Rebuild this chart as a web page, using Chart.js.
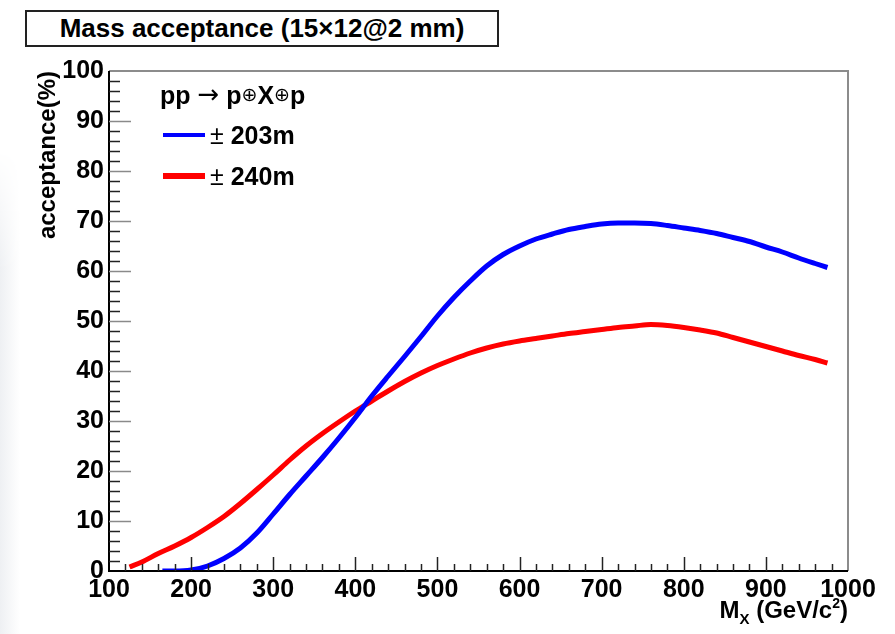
<!DOCTYPE html>
<html>
<head>
<meta charset="utf-8">
<script src="https://cdn.jsdelivr.net/npm/chart.js@4"></script>
<style>
  body { margin: 0; background: #fff; }
  #wrap { position: relative; width: 895px; height: 634px; }
  #shade { position: absolute; left: 0; top: 150px; width: 20px; height: 484px;
    background: linear-gradient(to right, #eef0f3, #ffffff);
    -webkit-mask-image: linear-gradient(to bottom, transparent, #000 25%, #000); }
  #title { position: absolute; left: 25px; top: 10px; width: 470px; height: 33px;
    border: 2px solid #222; font: bold 26px "Liberation Sans", Arial, sans-serif;
    line-height: 33px; text-align: center; color: #000; background: #fff; }
</style>
</head>
<body>
<div id="wrap">
  <div id="shade"></div>
  <canvas id="mass-chart"></canvas>
  <div id="title">Mass acceptance (15×12@2 mm)</div>
</div>
<script>
// acceptance vs M_X
const mass203 = [165, 180, 200, 220, 240, 260, 280, 300, 320, 340, 360, 380, 400, 420, 440, 460, 480, 500, 520, 540, 560, 580, 600, 620, 640, 660, 680, 700, 720, 740, 760, 780, 800, 820, 840, 860, 880, 900, 920, 940, 960, 975];
const acc203 = [0.0, 0.0, 0.2, 1.0, 2.5, 4.6, 7.6, 11.4, 15.3, 19.0, 22.7, 26.6, 30.7, 35.0, 39.0, 42.9, 46.9, 51.0, 54.7, 58.0, 61.0, 63.3, 65.0, 66.4, 67.4, 68.3, 68.9, 69.4, 69.6, 69.6, 69.5, 69.1, 68.6, 68.1, 67.5, 66.7, 65.9, 64.8, 63.8, 62.6, 61.5, 60.7];

const mass240 = [125, 140, 160, 180, 200, 220, 240, 260, 280, 300, 320, 340, 360, 380, 400, 420, 440, 460, 480, 500, 520, 540, 560, 580, 600, 620, 640, 660, 680, 700, 720, 740, 760, 780, 800, 820, 840, 860, 880, 900, 920, 940, 960, 975];
const acc240 = [0.8, 1.8, 3.5, 5.0, 6.7, 8.7, 10.9, 13.5, 16.3, 19.2, 22.2, 25.0, 27.5, 29.8, 32.0, 34.0, 36.0, 37.9, 39.6, 41.1, 42.4, 43.6, 44.6, 45.4, 46.0, 46.5, 47.0, 47.5, 47.9, 48.3, 48.7, 49.0, 49.3, 49.1, 48.7, 48.2, 47.6, 46.7, 45.8, 44.9, 44.0, 43.1, 42.3, 41.6];

const seriesLabels = ["± 203m", "± 240m"];
const seriesColors = ["#0000ff", "#ff0000"];

const FONT = '"Liberation Sans", Arial, sans-serif';

function toPoints(xs, ys) {
	return xs.map((x, i) => ({ x: x, y: ys[i] }));
}

// ROOT-style frame: inward ticks, grey top/right border, in-pad legend
const rootFrame = {
	id: "rootFrame",
	afterDraw(chart) {
		const ctx = chart.ctx;
		const a = chart.chartArea;
		const xs = chart.scales.x;
		const ys = chart.scales.y;
		ctx.save();

		ctx.lineWidth = 2;
		ctx.strokeStyle = "#8c8c8c";
		ctx.beginPath();
		ctx.moveTo(a.left, a.top);
		ctx.lineTo(a.right, a.top);
		ctx.lineTo(a.right, a.bottom);
		ctx.stroke();

		ctx.strokeStyle = "#000";
		ctx.beginPath();
		ctx.moveTo(a.left, a.top);
		ctx.lineTo(a.left, a.bottom);
		ctx.lineTo(a.right, a.bottom);
		ctx.stroke();

		// y ticks every 2
		ctx.lineWidth = 1.5;
		for (let v = 2; v < 100; v += 2) {
			const y = Math.round(ys.getPixelForValue(v)) + 0.5;
			const major = v % 10 === 0;
			ctx.strokeStyle = major ? "#8a8a8a" : "#222";
			ctx.beginPath();
			ctx.moveTo(a.left, y);
			ctx.lineTo(a.left + (major ? 22 : 11), y);
			ctx.stroke();
		}
		// x ticks every 20
		for (let v = 120; v < 1000; v += 20) {
			const x = Math.round(xs.getPixelForValue(v)) + 0.5;
			const major = v % 100 === 0;
			ctx.strokeStyle = "#222";
			ctx.beginPath();
			ctx.moveTo(x, a.bottom);
			ctx.lineTo(x, a.bottom - (major ? 14 : 7));
			ctx.stroke();
		}

		// legend
		ctx.fillStyle = "#000";
		ctx.textBaseline = "alphabetic";
		let x = 160;
		const put = (txt, font, dy) => {
			ctx.font = font;
			ctx.fillText(txt, x, 104 + (dy || 0));
			x += ctx.measureText(txt).width;
		};
		put("pp ", "bold 25px " + FONT);
		put("→", "26px DejaVu Sans", -1);
		put(" p", "bold 25px " + FONT);
		put("⊕", "19px DejaVu Sans", -3);
		put("X", "bold 25px " + FONT);
		put("⊕", "19px DejaVu Sans", -3);
		put("p", "bold 25px " + FONT);

		const rows = [135, 176];
		const widths = [4, 6];
		rows.forEach((yy, i) => {
			ctx.strokeStyle = seriesColors[i];
			ctx.lineWidth = widths[i];
			ctx.beginPath();
			ctx.moveTo(163, yy);
			ctx.lineTo(205, yy);
			ctx.stroke();
			const parts = seriesLabels[i].split(" ");
			ctx.font = "25px " + FONT;
			ctx.fillText(parts[0], 210, yy + 9);
			const w = ctx.measureText(parts[0] + " ").width;
			ctx.font = "bold 25px " + FONT;
			ctx.fillText(parts[1], 210 + w, yy + 9);
		});

		// x axis title M_X (GeV/c^2), right aligned
		const pieces = [
			["M", "bold 24px " + FONT, 0],
			["X", "bold 15px " + FONT, 6],
			[" (GeV/c", "bold 24px " + FONT, 0],
			["2", "bold 14px " + FONT, -10],
			[")", "bold 24px " + FONT, 0],
		];
		let total = 0;
		pieces.forEach((p) => { ctx.font = p[1]; total += ctx.measureText(p[0]).width; });
		let tx = a.right - total;
		pieces.forEach((p) => {
			ctx.font = p[1];
			ctx.fillText(p[0], tx, 618 + p[2]);
			tx += ctx.measureText(p[0]).width;
		});

		ctx.restore();
	},
};

const myChart = new Chart(document.getElementById("mass-chart"), {
	type: "line",
	data: {
		datasets: [
			{
				label: seriesLabels[0],
				data: toPoints(mass203, acc203),
				borderColor: seriesColors[0],
				borderWidth: 5,
				pointRadius: 0,
				cubicInterpolationMode: "monotone",
			},
			{
				label: seriesLabels[1],
				data: toPoints(mass240, acc240),
				borderColor: seriesColors[1],
				borderWidth: 5,
				pointRadius: 0,
				cubicInterpolationMode: "monotone",
			},
		],
	},
	options: {
		responsive: true,
		maintainAspectRatio: false,
		animation: false,
		layout: { padding: { left: 0, right: 47, top: 71, bottom: 0 } },
		plugins: {
			legend: { display: false },
			tooltip: { enabled: false },
		},
		scales: {
			x: {
				type: "linear",
				min: 100,
				max: 1000,
				grid: { display: false, drawTicks: false, tickLength: 0 },
				border: { display: false },
				ticks: {
					stepSize: 100,
					padding: 4,
					color: "#000",
					maxRotation: 0,
					callback: (v) => String(v),
					font: { family: FONT, size: 25, weight: "bold" },
				},
				afterFit(scale) { scale.height = 63; },
			},
			y: {
				min: 0,
				max: 100,
				grid: { display: false, drawTicks: false, tickLength: 0 },
				border: { display: false },
				ticks: {
					stepSize: 10,
					padding: 5,
					color: "#000",
					callback: (v) => String(v),
					font: { family: FONT, size: 25, weight: "bold" },
				},
				title: {
					display: true,
					text: "acceptance(%)",
					align: "end",
					color: "#000",
					padding: { top: 34, bottom: 0 },
					font: { family: FONT, size: 24, weight: "bold" },
				},
				afterFit(scale) { scale.width = 109; },
			},
		},
	},
	plugins: [rootFrame],
});
</script>
</body>
</html>
